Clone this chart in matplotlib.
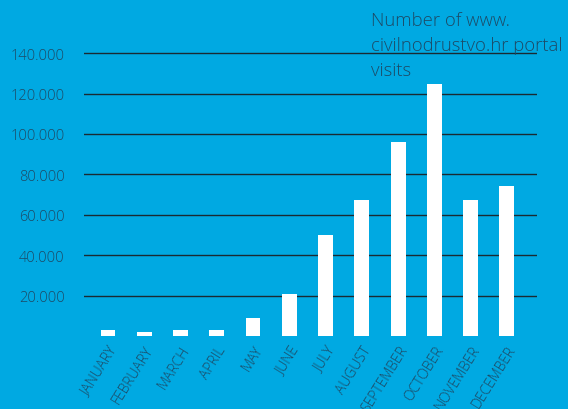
import matplotlib.pyplot as plt
from matplotlib.ticker import FuncFormatter

# Colours
C_BG = '#00a9e2'
C_TEXT = '#1d4a66'
C_GRID = '#1a2a33'

months = ['JANUARY', 'FEBRUARY', 'MARCH', 'APRIL', 'MAY', 'JUNE', 'JULY',
          'AUGUST', 'SEPTEMBER', 'OCTOBER', 'NOVEMBER', 'DECEMBER']
visits = [3000, 2100, 3000, 3000, 8800, 20800, 50000,
          67300, 96000, 124800, 67300, 74300]
y_ticks = [20000, 40000, 60000, 80000, 100000, 120000, 140000]

plt.rcParams['font.family'] = ['Open Sans', 'DejaVu Sans']

fig = plt.figure(figsize=(5.68, 4.10), dpi=100, facecolor=C_BG)
ax = fig.add_axes([84 / 568, 73 / 410, (537 - 84) / 568, 303 / 410])
ax.set_facecolor(C_BG)

ax.bar(range(len(months)), visits, width=0.41, color='white', zorder=3)

ax.set_xlim(-0.66, 11.83)
ax.set_ylim(0, 150000)
ax.set_yticks(y_ticks)
ax.yaxis.set_major_formatter(FuncFormatter(lambda v, p: f'{int(v):,}'.replace(',', '.')))
ax.grid(axis='y', color=C_GRID, linewidth=1, zorder=1)
ax.set_axisbelow(True)

for s in ax.spines.values():
    s.set_visible(False)
ax.tick_params(axis='y', length=0, pad=14, labelsize=10.5, labelcolor=C_TEXT)
ax.tick_params(axis='x', length=0, pad=5, labelcolor=C_TEXT)
ax.set_xticks(range(len(months)))
ax.set_xticklabels(months, rotation=58, ha='right', rotation_mode='anchor',
                   fontsize=10, fontweight='light')
for lbl in ax.get_yticklabels():
    lbl.set_fontweight('light')

fig.text(371 / 568, 1 - 12 / 410, 'Number of www.\ncivilnodrustvo.hr portal\nvisits',
         ha='left', va='top', fontsize=13.3, color=C_TEXT, fontweight='light',
         linespacing=1.5)

fig.savefig('out.png', dpi=100, facecolor=C_BG)
